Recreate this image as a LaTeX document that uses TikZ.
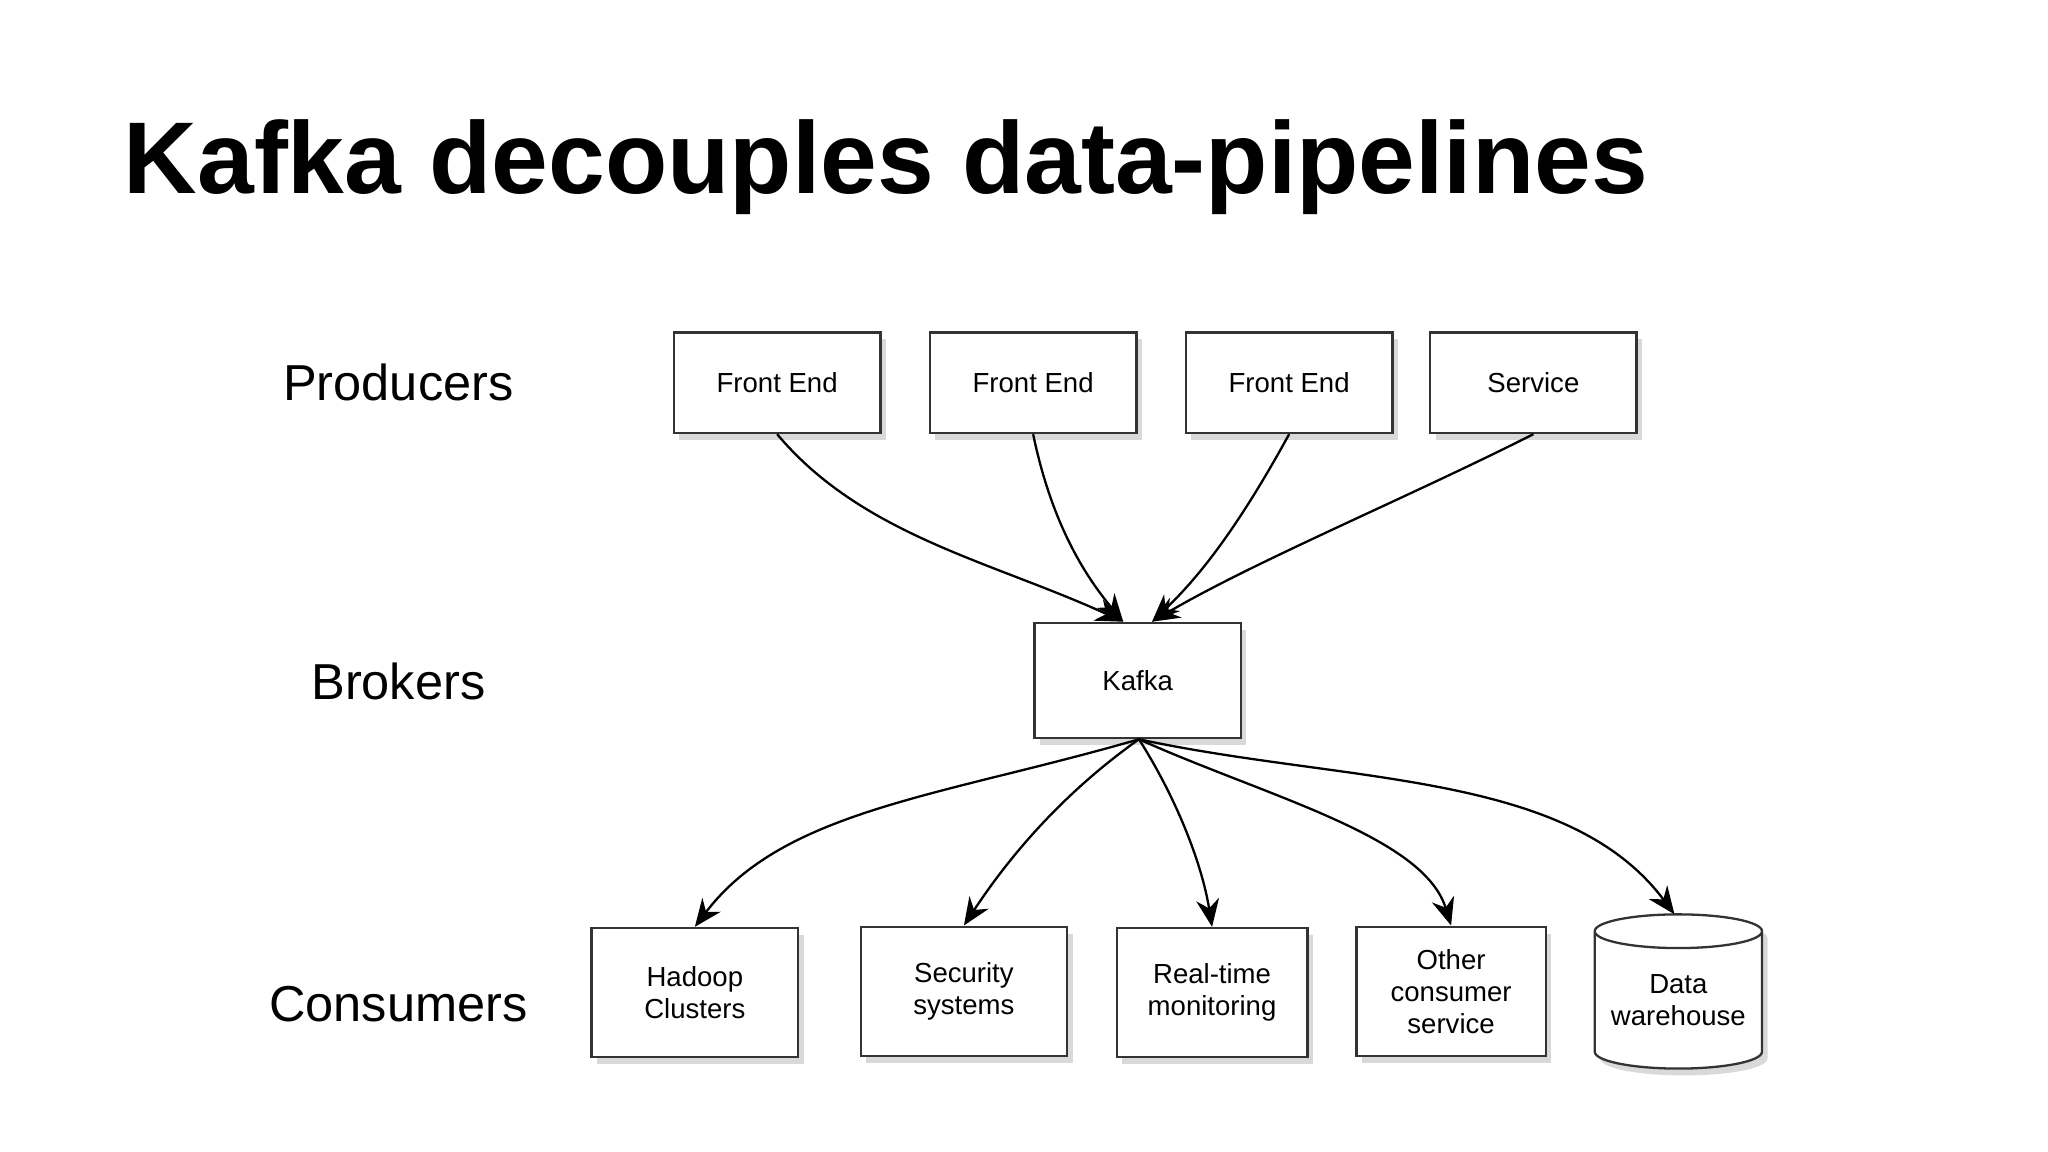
\documentclass[tikz,border=0pt]{standalone}
\usepackage{fontspec}
\setmainfont{Liberation Sans}
\usetikzlibrary{shapes.geometric,arrows.meta,shadows}
\begin{document}
\begin{tikzpicture}[x=0.01cm,y=-0.01cm,
  box/.style={draw=black!80,fill=white,line width=0.5pt,font=\fontsize{6}{7}\selectfont,align=center,inner sep=0pt,drop shadow={shadow xshift=1.2pt,shadow yshift=-1.5pt,opacity=0.3}},
  lab/.style={font=\fontsize{11}{13}\selectfont},
  arr/.style={-{Stealth[length=6pt,width=5pt]},line width=0.5pt}]
\useasboundingbox (0,0) rectangle (1568,882);
\node[anchor=base west,inner sep=0pt,font=\bfseries\fontsize{22.2}{24}\selectfont] (title) at (94,148) {Kafka decouples data-pipelines};
\node[lab] (prod) at (305,293) {Producers};
\node[lab] (brok) at (305,522) {Brokers};
\node[lab] (cons) at (305,769) {Consumers};
\node[box,minimum width=1.58cm,minimum height=0.77cm] (fe1) at (595,293) {Front End};
\node[box,minimum width=1.58cm,minimum height=0.77cm] (fe2) at (791,293) {Front End};
\node[box,minimum width=1.58cm,minimum height=0.77cm] (fe3) at (987,293) {Front End};
\node[box,minimum width=1.58cm,minimum height=0.77cm] (svc) at (1174,293) {Service};
\node[box,minimum width=1.58cm,minimum height=0.88cm] (kafka) at (871,521) {Kafka};
\node[box,minimum width=1.58cm,minimum height=0.99cm] (hd) at (532,760) {Hadoop\\Clusters};
\node[box,minimum width=1.58cm,minimum height=0.99cm] (sec) at (738,759) {Security\\systems};
\node[box,minimum width=1.46cm,minimum height=0.99cm] (rt) at (928,760) {Real-time\\monitoring};
\node[box,minimum width=1.45cm,minimum height=0.99cm] (oth) at (1111,759) {Other\\consumer\\service};
\node[box,cylinder,shape border rotate=90,aspect=0.25,minimum width=1.28cm,minimum height=1.18cm] (dw) at (1285,766) {Data\\warehouse};
\coordinate (kin1) at (860,476);
\coordinate (kin2) at (882,476);
\coordinate (kout) at (872,566);
\draw[arr] (fe1.south) .. controls (660,410) and (760,430) .. (kin1);
\draw[arr] (fe2.south) .. controls (805,400) and (830,440) .. (kin1);
\draw[arr] (fe3.south) .. controls (950,400) and (920,440) .. (kin2);
\draw[arr] (svc.south) .. controls (1080,380) and (960,430) .. (kin2);
\draw[arr] (kout) .. controls (720,610) and (600,620) .. (hd.north);
\draw[arr] (kout) .. controls (810,610) and (770,660) .. (sec.north);
\draw[arr] (kout) .. controls (900,610) and (920,660) .. (rt.north);
\draw[arr] (kout) .. controls (970,610) and (1090,640) .. (oth.north);
\draw[arr] (kout) .. controls (1030,600) and (1200,590) .. (1282,700);
\end{tikzpicture}
\end{document}
